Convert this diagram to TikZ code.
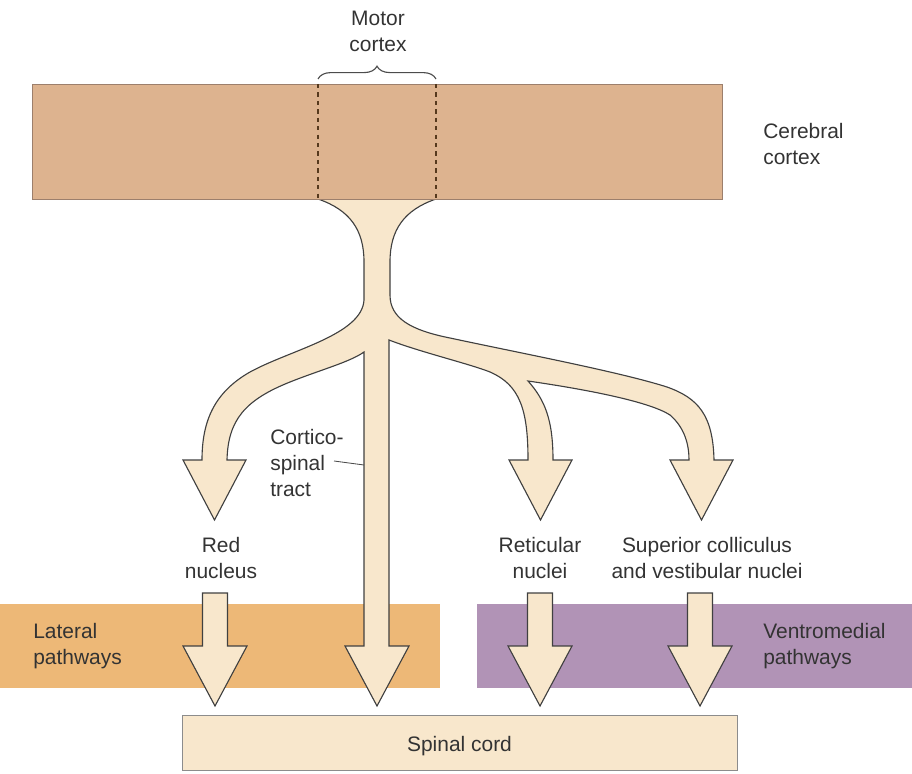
\documentclass[tikz,border=0pt]{standalone}
\usepackage{fontspec}
\setmainfont{Liberation Sans}
\usepackage{xcolor}
\usepackage{tikz}
\usetikzlibrary{decorations.pathreplacing}

\definecolor{cortexfill}{HTML}{DDB38F}
\definecolor{cortexline}{HTML}{9C7F6C}
\definecolor{tractfill}{HTML}{F8E7CC}
\definecolor{lateralfill}{HTML}{EDB877}
\definecolor{ventrofill}{HTML}{B193B6}
\definecolor{labelgray}{HTML}{333333}

\begin{document}
\begin{tikzpicture}[x=0.025cm,y=-0.025cm]
            \tikzset{Label/.style={%
                    text=labelgray,%
                    font=\fontsize{14.9}{18.6}\selectfont,%
                    align=center,%
                    inner sep=0pt,%
                }}
            \tikzset{Tract/.style={%
                    fill=tractfill,%
                    draw=black!75,%
                    line width=0.8pt,%
                }}
            \tikzset{Band/.style={%
                    shape=rectangle,%
                    minimum height=2.075cm,%
                    inner sep=0pt,%
                }}

                \useasboundingbox (0,0) rectangle (912,774);

                % pathway bands
                \node[Band,fill=lateralfill,minimum width=11cm] (lateral) at (220,646) {};
                \node[Band,fill=ventrofill,minimum width=10.875cm] (ventro) at (694.5,646) {};

                % tract leaving the motor cortex
                \draw[Tract] (318,199) .. controls (350,210) and (364,230) .. (364,262)
                    -- (364,300) .. controls (362,335) and (290,350) .. (250,372)
                    .. controls (215,392) and (202,420) .. (202,460)
                    -- (183,460) -- (214.5,520) -- (246,460) -- (227,460)
                    .. controls (228,420) and (245,400) .. (290,382)
                    .. controls (320,370) and (350,362) .. (364,352)
                    -- (364,646) -- (345,646) -- (377,706) -- (409,646) -- (389,646)
                    -- (389,340) .. controls (420,352) and (470,364) .. (490,372)
                    .. controls (520,385) and (528,410) .. (528,460)
                    -- (509,460) -- (540.5,520) -- (572,460) -- (553,460)
                    .. controls (553,420) and (545,400) .. (528,381)
                    .. controls (590,390) and (650,402) .. (670,415)
                    .. controls (685,428) and (689,445) .. (689,460)
                    -- (670,460) -- (701.5,520) -- (733,460) -- (714,460)
                    .. controls (713,415) and (698,398) .. (667,387)
                    .. controls (620,372) and (520,353) .. (450,338)
                    .. controls (410,330) and (390,318) .. (390,295)
                    -- (390,262) .. controls (390,230) and (404,210) .. (436,199) -- cycle;

                % short arrows through the bands
                \foreach \cx in {215,540,700}
                    \draw[Tract] (\cx-12.5,593) -- (\cx+12.5,593) -- (\cx+12.5,646) -- (\cx+32,646)
                        -- (\cx,706) -- (\cx-32,646) -- (\cx-12.5,646) -- cycle;

                % cerebral cortex with the motor strip
                \node[shape=rectangle,draw=cortexline,fill=cortexfill,line width=0.6pt,
                      minimum width=17.225cm,minimum height=2.875cm,inner sep=0pt] (cortex) at (377.5,141.5) {};
                \draw[dashed,draw=black!55!brown,line width=0.8pt] (318,84) -- (318,199);
                \draw[dashed,draw=black!55!brown,line width=0.8pt] (436,84) -- (436,199);
                \draw[decorate,decoration={brace,amplitude=0.32cm},draw=black!70,line width=0.8pt]
                    (318,79) -- (436,79);

                \node[shape=rectangle,draw=black!45,fill=tractfill,line width=0.6pt,
                      minimum width=13.875cm,minimum height=1.375cm,inner sep=0pt] (spinal) at (459.5,742.5) {};
                \node[Label] (spinaltext) at (459.5,746) {Spinal cord};

                % labels
                \node[Label] (motor) at (378,31) {Motor\\cortex};
                \node[Label,anchor=west,align=left] (cerebral) at (763,144) {Cerebral\\cortex};
                \node[Label] (red) at (221,558) {Red\\nucleus};
                \node[Label,anchor=west,align=left] (cst) at (270,463) {Cortico-\\spinal\\tract};
                \node[Label] (reticular) at (540,558) {Reticular\\nuclei};
                \node[Label] (superior) at (707,558) {Superior colliculus\\and vestibular nuclei};
                \node[Label,anchor=west,align=left] (latlabel) at (33,646) {Lateral\\pathways};
                \node[Label,anchor=west,align=left] (ventrolabel) at (763,646) {Ventromedial\\pathways};

                \coordinate (leadstart) at (334,461);
                \coordinate (tractpt) at (364,465);
                \path (leadstart) edge[-,draw=black!70,line width=0.6pt] (tractpt);
        \end{tikzpicture}
\end{document}
